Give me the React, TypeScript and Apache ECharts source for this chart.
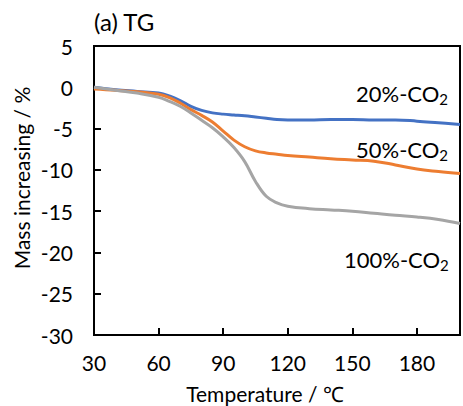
import React, { useEffect, useRef } from "react";
import * as echarts from "echarts";

const temps = [30, 40, 50, 60, 65, 70, 75, 80, 85, 90, 95, 100, 105, 110, 115, 120, 130, 140, 150, 160, 170, 180, 190, 200];
const co2_20 = [0, -0.3, -0.5, -0.7, -1.05, -1.6, -2.3, -2.8, -3.1, -3.25, -3.35, -3.45, -3.6, -3.75, -3.9, -3.95, -3.95, -3.9, -3.9, -3.95, -3.95, -4.1, -4.3, -4.5];
const co2_50 = [-0.2, -0.35, -0.55, -0.85, -1.25, -1.9, -2.7, -3.4, -4.2, -5.3, -6.4, -7.2, -7.7, -7.95, -8.1, -8.25, -8.45, -8.65, -8.8, -8.95, -9.4, -9.9, -10.2, -10.45];
const co2_100 = [0, -0.35, -0.7, -1.2, -1.7, -2.3, -3.1, -4.0, -4.9, -6.0, -7.3, -9.0, -11.4, -13.2, -14.0, -14.4, -14.7, -14.85, -15.0, -15.25, -15.5, -15.7, -16.0, -16.5];

const seriesNames = ["20%-CO", "50%-CO", "100%-CO"];
const colors = ["#4472C4", "#ED7D31", "#A5A5A5"];
const xTicks = [30, 60, 90, 120, 150, 180];
const yTicks = [-30, -25, -20, -15, -10, -5, 0, 5];

const FONT = "Lato";

export default function App() {
  const ref = useRef<HTMLDivElement>(null);
  useEffect(() => {
    if (!ref.current) return;
    const chart = echarts.init(ref.current, null, { renderer: "svg" });
    const datasets = [co2_20, co2_50, co2_100];
    const labelRich = {
      m: { fontSize: 22, fontFamily: FONT, color: "#000" },
      s: { fontSize: 15, fontFamily: FONT, color: "#000", verticalAlign: "bottom", padding: [12, 0, 0, 0] },
    };
    const labelPos = [
      { x: 356, y: 93 },
      { x: 356, y: 149 },
      { x: 344, y: 259 },
    ];
    chart.setOption({
      animation: false,
      grid: {
        left: 94,
        top: 46,
        right: -1,
        bottom: 71,
        show: true,
        borderColor: "#000",
        borderWidth: 2,
        backgroundColor: "transparent",
      },
      xAxis: {
        type: "value",
        min: xTicks[0],
        max: 200,
        interval: 30,
        axisLine: { show: true, onZero: false, lineStyle: { color: "#000", width: 2 } },
        axisTick: { show: true, inside: true, length: 7, lineStyle: { color: "#000", width: 2 } },
        axisLabel: {
          color: "#000",
          fontSize: 21,
          fontFamily: FONT,
          margin: 17,
          formatter: (v: number) => (xTicks.includes(v) ? String(v) : ""),
        },
        splitLine: { show: false },
      },
      yAxis: {
        type: "value",
        min: yTicks[0],
        max: yTicks[yTicks.length - 1],
        interval: 5,
        axisLine: { show: true, onZero: false, lineStyle: { color: "#000", width: 2 } },
        axisTick: { show: true, inside: true, length: 7, lineStyle: { color: "#000", width: 2 } },
        axisLabel: { color: "#000", fontSize: 21, fontFamily: FONT, margin: 21 },
        splitLine: { show: false },
      },
      series: datasets.map((d, i) => ({
        name: seriesNames[i],
        type: "line",
        data: temps.map((t, j) => [t, d[j]]),
        smooth: 0.4,
        showSymbol: false,
        lineStyle: { color: colors[i], width: 3 },
        itemStyle: { color: colors[i] },
        z: 2 + i,
      })),
      graphic: [
        {
          type: "text",
          left: 94,
          top: 9,
          style: { text: "(a) TG", fontSize: 24, fontFamily: FONT, fill: "#000" },
        },
        {
          type: "text",
          x: 265,
          y: 393,
          style: {
            text: "Temperature / ℃",
            fontSize: 21,
            fontFamily: FONT,
            fill: "#000",
            align: "center",
            verticalAlign: "middle",
          },
        },
        {
          type: "text",
          x: 21,
          y: 178,
          rotation: Math.PI / 2,
          style: {
            text: "Mass increasing / %",
            fontSize: 21,
            fontFamily: FONT,
            fill: "#000",
            align: "center",
            verticalAlign: "middle",
          },
        },
        ...seriesNames.map((n, i) => ({
          type: "text",
          x: labelPos[i].x,
          y: labelPos[i].y,
          style: {
            text: `{m|${n}}{s|2}`,
            rich: labelRich,
            verticalAlign: "middle",
          },
        })),
      ],
    });
    return () => chart.dispose();
  }, []);
  return <div ref={ref} style={{ position: "absolute", left: 0, top: 0, width: 463, height: 406 }} />;
}
